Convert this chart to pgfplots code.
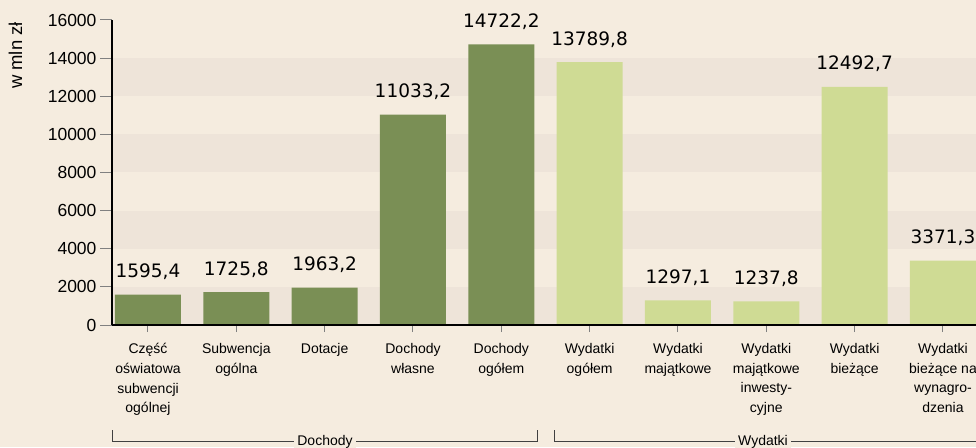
\documentclass[border=0pt]{standalone}
\usepackage{pgfplots}
\pgfplotsset{compat=1.18}
\usepackage{fontspec}
\setmainfont{Liberation Sans}
\newfontfamily\verdana{DejaVu Sans}
\definecolor{bg}{HTML}{F5ECDF}
\definecolor{band}{HTML}{EEE4D9}
\definecolor{dgreen}{HTML}{7A8F55}
\definecolor{lgreen}{HTML}{CFDB94}
\definecolor{tickgray}{HTML}{808080}
\begin{document}
\begin{tikzpicture}[x=1pt,y=1pt]
\useasboundingbox (0,0) rectangle (976,447);
\fill[bg] (0,0) rectangle (976,447);
\begin{axis}[
  at={(112pt,122pt)}, anchor=south west,
  scale only axis, width=864pt, height=305pt,
  xmin=-0.4075, xmax=9.374, ymin=0, ymax=16000,
  axis x line=bottom, axis y line=left,
  axis line style={-, black, line width=2.5pt},
  axis on top,
  ytick={0,2000,...,16000},
  xtick={0,...,9},
  xticklabels={{Część\\oświatowa\\subwencji\\ogólnej},{Subwencja\\ogólna},{Dotacje},{Dochody\\własne},{Dochody\\ogółem},{Wydatki\\ogółem},{Wydatki\\majątkowe},{Wydatki\\majątkowe\\inwesty-\\cyjne},{Wydatki\\bieżące},{Wydatki\\bieżące na\\wynagro-\\dzenia}},
  tick align=outside,
  major tick length=12pt,
  ytick style={tickgray, line width=1pt},
  xtick style={tickgray, line width=1pt, /pgfplots/major tick length=7pt},
  scaled y ticks=false,
  yticklabel style={font=\fontsize{17.5}{20}\selectfont, /pgf/number format/assume math mode=true, /pgf/number format/1000 sep={}},
  xticklabel style={align=center, font=\fontsize{14}{19.6}\selectfont, anchor=north, yshift=-3pt},
]
\fill[band] (axis cs:-1,0) rectangle (axis cs:10,2000);
\fill[band] (axis cs:-1,4000) rectangle (axis cs:10,6000);
\fill[band] (axis cs:-1,8000) rectangle (axis cs:10,10000);
\fill[band] (axis cs:-1,12000) rectangle (axis cs:10,14000);
\addplot[ybar, bar width=66pt, bar shift=0pt, fill=dgreen, draw=none,
  point meta=explicit symbolic, nodes near coords,
  nodes near coords style={font=\verdana\fontsize{18.5}{20}\selectfont, anchor=base, yshift=17pt, text=black}]
  coordinates {(0,1595.4)[1595,4] (1,1725.8)[1725,8] (2,1963.2)[1963,2] (3,11033.2)[11033,2] (4,14722.2)[14722,2]};
\addplot[ybar, bar width=66pt, bar shift=0pt, fill=lgreen, draw=none,
  point meta=explicit symbolic, nodes near coords,
  nodes near coords style={font=\verdana\fontsize{18.5}{20}\selectfont, anchor=base, yshift=17pt, text=black}]
  coordinates {(5,13789.8)[13789,8] (6,1297.1)[1297,1] (7,1237.8)[1237,8] (8,12492.7)[12492,7] (9,3371.3)[3371,3]};
\end{axis}
\node[rotate=90, font=\fontsize{18.5}{20}\selectfont] at (15.5,391.5) {w mln zł};
\draw[black!75, line width=0.8pt] (112,17) -- (112,6) -- (537,6) -- (537,17);
\draw[black!75, line width=0.8pt] (554,17) -- (554,6) -- (980,6);
\node[fill=bg, inner xsep=3pt, inner ysep=2pt, anchor=base, font=\fontsize{14}{16}\selectfont] at (325,2) {Dochody};
\node[fill=bg, inner xsep=3pt, inner ysep=2pt, anchor=base, font=\fontsize{14}{16}\selectfont] at (763,2) {Wydatki};
\end{tikzpicture}
\end{document}
